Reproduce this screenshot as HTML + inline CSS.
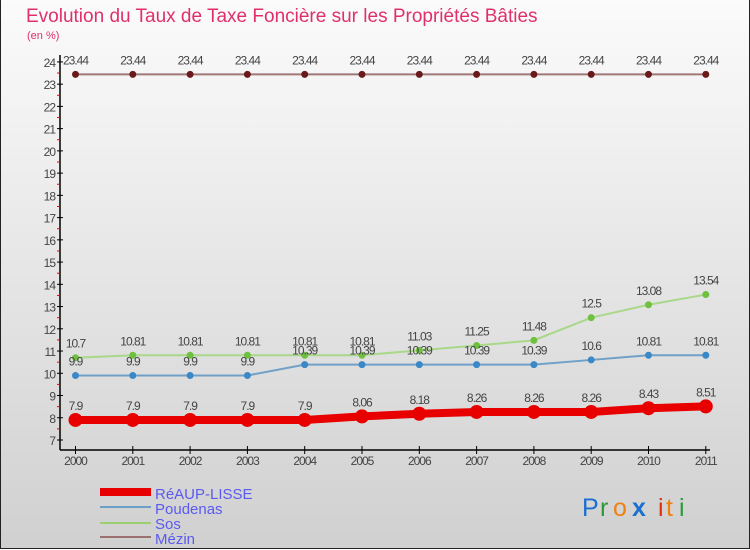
<!DOCTYPE html>
<html><head><meta charset="utf-8"><style>
body{margin:0;width:750px;height:550px;overflow:hidden;font-family:"Liberation Sans",sans-serif}
#wrap{position:relative;width:748px;height:548px;border:1px solid #222;border-top:none;background:linear-gradient(#fbfbfb,#d0d0d0)}
</style></head><body>
<div id="wrap">
<svg width="750" height="550" id="svg" style="position:absolute;left:-1px;top:0">
<text x="26" y="22" font-size="19" fill="#e0306a">Evolution du Taux de Taxe Foncière sur les Propriétés Bâties</text>
<text x="27" y="39" font-size="11" fill="#e0306a">(en %)</text>
<g id="axes"></g><g id="series"></g>
<g>
<rect x="100" y="488" width="51" height="8" fill="#e80000"/>
<rect x="100" y="506" width="51" height="2" fill="#6aa0c8"/>
<rect x="100" y="522" width="51" height="2" fill="#9ad070"/>
<rect x="100" y="536" width="51" height="2" fill="#9a7070"/>
<g font-size="15" fill="#5a5af0">
<text x="155" y="499">RéAUP-LISSE</text>
<text x="155" y="514">Poudenas</text>
<text x="155" y="529">Sos</text>
<text x="155" y="544">Mézin</text></g></g>
<g font-size="25" font-family="Liberation Sans,sans-serif">
<text x="582" y="516" fill="#1a70d0">P</text><text x="600" y="516" fill="#2a9a3a">r</text><text x="613" y="516" fill="#f08010">o</text><text x="632" y="516" fill="#1a70d0" font-weight="bold">x</text><text x="658" y="516" fill="#e03010">i</text><text x="666" y="516" fill="#f08010">t</text><text x="679" y="516" fill="#2a9a3a">i</text></g>
</svg></div>
<script>
const years=["2000","2001","2002","2003","2004","2005","2006","2007","2008","2009","2010","2011"];
const reaup=[7.9,7.9,7.9,7.9,7.9,8.06,8.18,8.26,8.26,8.26,8.43,8.51];
const poudenas=[9.9,9.9,9.9,9.9,10.39,10.39,10.39,10.39,10.39,10.6,10.81,10.81];
const sos=[10.7,10.81,10.81,10.81,10.81,10.81,11.03,11.25,11.48,12.5,13.08,13.54];
const mezin=[23.44,23.44,23.44,23.44,23.44,23.44,23.44,23.44,23.44,23.44,23.44,23.44];
const yTicks=[7,8,9,10,11,12,13,14,15,16,17,18,19,20,21,22,23,24];
const NS="http://www.w3.org/2000/svg";
const X=i=>75.5+i*57.3, Y=v=>440-(v-7)*22.24;
function mk(t,a,p){const e=document.createElementNS(NS,t);for(const k in a)e.setAttribute(k,a[k]);if(p)p.appendChild(e);return e;}
const ax=document.getElementById('axes'), sg=document.getElementById('series');
const yl=mk('line',{x1:60,y1:55,x2:60,y2:450,stroke:'#000','stroke-width':1.5},ax);


const xl=mk('line',{x1:60,y1:450,x2:710,y2:450,stroke:'#000','stroke-width':1.5},ax);


yTicks.forEach(v=>{const y=Y(v);
mk('line',{x1:57,y1:y,x2:63,y2:y,stroke:'#000'},ax);
if(v<24)mk('line',{x1:57,y1:Y(v+0.5),x2:60,y2:Y(v+0.5),stroke:'#e00'},ax);
const t=mk('text',{x:55,y:y+5,'font-size':12,fill:'#444','text-anchor':'end','letter-spacing':'-1'},ax);t.textContent=v;

});
years.forEach((yr,i)=>{mk('line',{x1:X(i),y1:446,x2:X(i),y2:454,stroke:'#000'},ax);
const t=mk('text',{x:X(i),y:465,'font-size':12,fill:'#444','text-anchor':'middle','letter-spacing':'-1'},ax);t.textContent=yr;

});
function series(name,d,color,dot,w,r){
const g=mk('g',{},sg);


mk('polyline',{points:d.map((v,i)=>X(i)+','+Y(v)).join(' '),fill:'none',stroke:color,'stroke-width':w},g);
d.forEach((v,i)=>{const c=mk('circle',{cx:X(i),cy:Y(v),r:r,fill:dot},g);


const t=mk('text',{x:X(i),y:Y(v)-10,'font-size':12,fill:'#444','text-anchor':'middle','letter-spacing':'-1'},g);t.textContent=v;

});}
series('mezin',mezin,'#a07878','#6a1a1a',2,3.5);
series('sos',sos,'#a8d888','#70c040',2,3.5);
series('poudenas',poudenas,'#70a0c8','#3a88c8',2,3.5);
series('reaup-lisse',reaup,'#e80000','#e80000',8,7);
</script></body></html>
